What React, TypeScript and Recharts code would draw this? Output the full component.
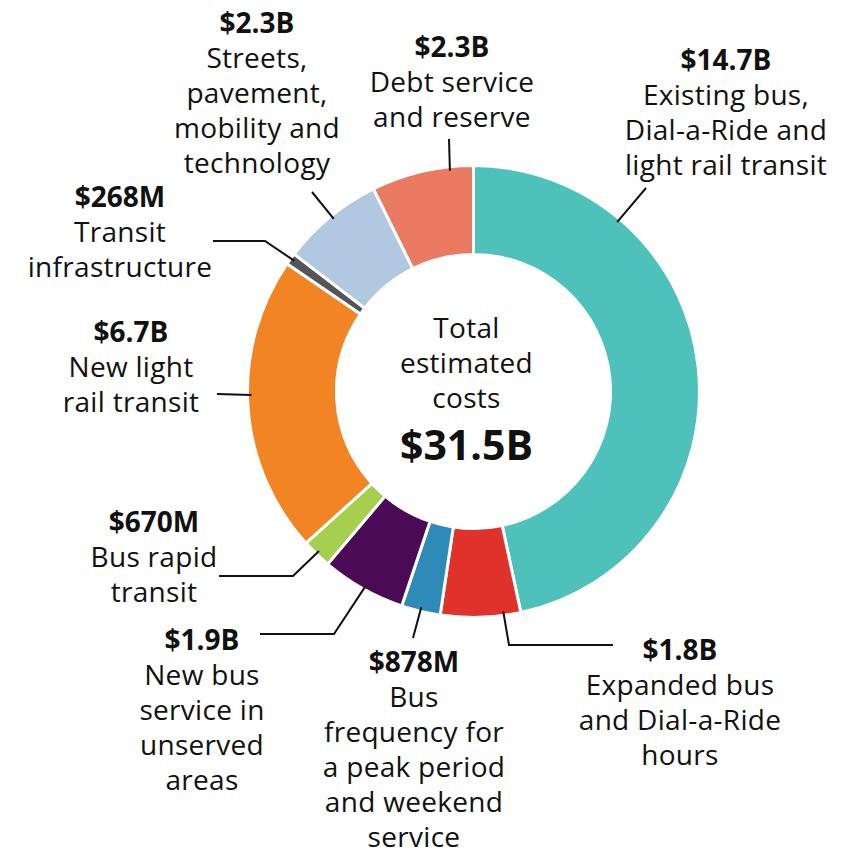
import { PieChart, Pie, Cell } from 'recharts'

const categories = [
  'Existing bus, Dial-a-Ride and light rail transit',
  'Expanded bus and Dial-a-Ride hours',
  'Bus frequency for a peak period and weekend service',
  'New bus service in unserved areas',
  'Bus rapid transit',
  'New light rail transit',
  'Transit infrastructure',
  'Streets, pavement, mobility and technology',
  'Debt service and reserve',
]

// billions of dollars
const costs = [14.7, 1.8, 0.878, 1.9, 0.67, 6.7, 0.268, 2.3, 2.3]

const amountLabels = ['$14.7B', '$1.8B', '$878M', '$1.9B', '$670M', '$6.7B', '$268M', '$2.3B', '$2.3B']

const labelLines = [
  ['Existing bus,', 'Dial-a-Ride and', 'light rail transit'],
  ['Expanded bus', 'and Dial-a-Ride', 'hours'],
  ['Bus', 'frequency for', 'a peak period', 'and weekend', 'service'],
  ['New bus', 'service in', 'unserved', 'areas'],
  ['Bus rapid', 'transit'],
  ['New light', 'rail transit'],
  ['Transit', 'infrastructure'],
  ['Streets,', 'pavement,', 'mobility and', 'technology'],
  ['Debt service', 'and reserve'],
]

const colors = ['#4EC1BB', '#E0322A', '#2E8BB8', '#4A0A55', '#A6CF4F', '#F28423', '#555559', '#B0C9E1', '#EB7A62']

const totalLabel = ['Total', 'estimated', 'costs']
const totalValue = '$31.5B'

const data = categories.map((name, i) => ({ name, value: costs[i] }))

// label block placement: text centre x, first baseline y, leader start angle on ring, rest of leader path
const layout = [
  { x: 726, y: 70, angle: 49.7, path: [[646, 188]] },
  { x: 680, y: 660, angle: 277.7, path: [[509, 645], [613, 645]] },
  { x: 414, y: 672, angle: 256.4, path: [[413, 638]] },
  { x: 202, y: 650, angle: 241, path: [[334, 634], [260, 634]] },
  { x: 154, y: 532, angle: 225.9, path: [[293, 576], [219, 576]] },
  { x: 131, y: 342, angle: 180.9, path: [[217, 394]] },
  { x: 120, y: 207, angle: 143.9, path: [[265, 241], [213, 241]] },
  { x: 257, y: 33, angle: 129, path: [[312, 192]] },
  { x: 452, y: 57, angle: 96.1, path: [[449, 139]] },
]

const FONT = '"Open Sans", sans-serif'
const LINE_H = 35
const RAD = Math.PI / 180

function renderLabel(props: any) {
  const { cx, cy, outerRadius, index } = props
  const l = layout[index]
  const r = outerRadius - 4
  const sx = cx + r * Math.cos(-l.angle * RAD)
  const sy = cy + r * Math.sin(-l.angle * RAD)
  const pts = [[sx, sy], ...l.path].map((p) => p.join(',')).join(' ')
  const tx = cx - 7
  return (
    <g key={`lbl-${index}`}>
      <polyline points={pts} fill="none" stroke="#111" strokeWidth={2} />
      <text x={l.x} y={l.y} textAnchor="middle" fontFamily={FONT} fontSize={28} fill="#111">
        <tspan x={l.x} fontWeight={700}>{amountLabels[index]}</tspan>
        {labelLines[index].map((t, j) => (
          <tspan key={j} x={l.x} dy={LINE_H} letterSpacing={0.3}>{t}</tspan>
        ))}
      </text>
      {index === 0 && (
        <text x={tx} y={cy - 53.5} textAnchor="middle" fontFamily={FONT} fontSize={28} fill="#111">
          {totalLabel.map((t, j) => (
            <tspan key={j} x={tx} dy={j === 0 ? 0 : 35} letterSpacing={0.3}>{t}</tspan>
          ))}
          <tspan x={tx} dy={52} fontSize={41} fontWeight={700}>{totalValue}</tspan>
        </text>
      )}
    </g>
  )
}

export default function App() {
  return (
    <div style={{ position: 'absolute', left: 0, top: 0, width: 867, height: 855, background: '#fff' }}>
      <PieChart width={867} height={855} margin={{ top: 0, right: 0, bottom: 0, left: 0 }}>
        <Pie
          data={data}
          dataKey="value"
          nameKey="name"
          cx={473.5}
          cy={391.5}
          innerRadius={137}
          outerRadius={226}
          startAngle={90}
          endAngle={-270}
          stroke="#fff"
          strokeWidth={3}
          label={renderLabel}
          labelLine={false}
          isAnimationActive={false}
        >
          {data.map((d, i) => (
            <Cell key={d.name} fill={colors[i]} />
          ))}
        </Pie>
      </PieChart>
    </div>
  )
}
